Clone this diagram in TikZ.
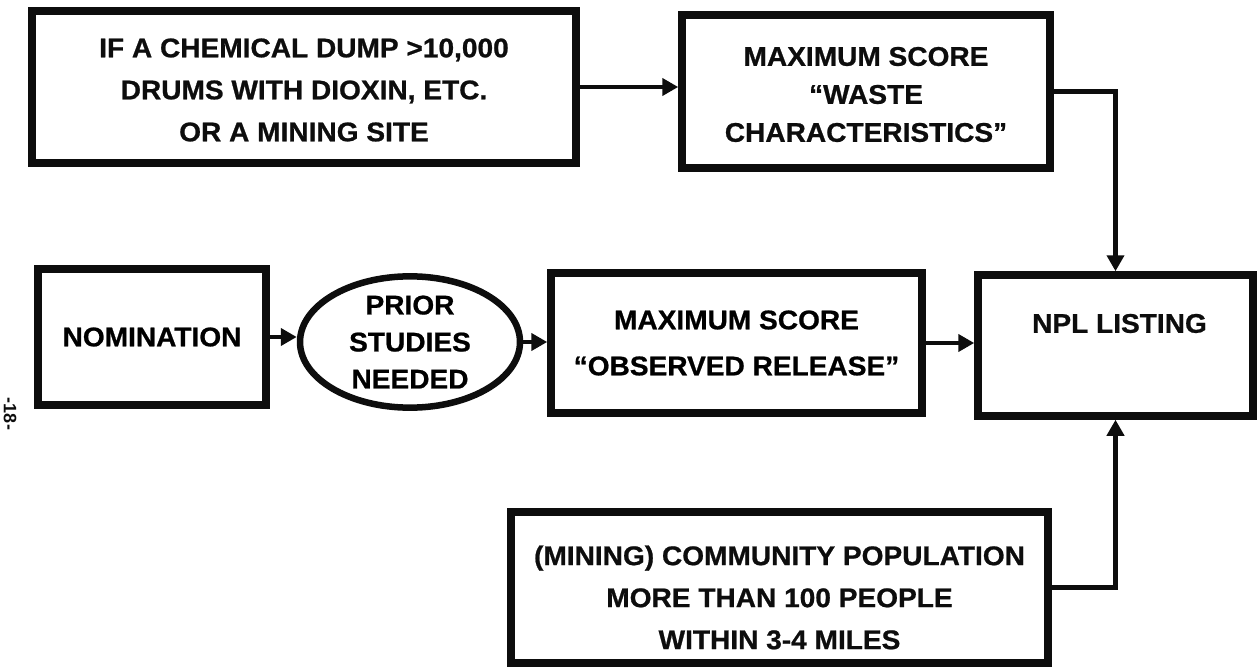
\documentclass[tikz,border=0pt]{standalone}
\usepackage{fontspec}
\setmainfont{Liberation Sans}
\newfontfamily\BoxFont[FakeStretch=1.04,FakeBold=0.8]{Liberation Sans}
\usetikzlibrary{arrows.meta,shapes.geometric}
\definecolor{InkClr}{rgb}{0.05,0.05,0.05}

\begin{document}
\begin{tikzpicture}[x=1pt,y=-1pt,
  box/.style={draw=InkClr,line width=7.5pt,align=center,inner sep=0pt,
    font=\BoxFont\bfseries\fontsize{27}{42}\selectfont},
  boxtext/.style={align=center,inner sep=0pt,text=InkClr,
    font=\BoxFont\bfseries\fontsize{27}{42}\selectfont},
  oval/.style={ellipse,draw=InkClr,line width=6.5pt,align=center,inner sep=0pt,
    font=\BoxFont\bfseries\fontsize{27}{37}\selectfont},
  conn/.style={draw=InkClr,line width=4.5pt,-{Triangle[length=16pt,width=17pt]}}]
\useasboundingbox (0,0) rectangle (1258,671);

\node[box,minimum width=544pt,minimum height=152pt,
  label={[boxtext,yshift=-3pt]center:{IF A CHEMICAL DUMP >10,000\\DRUMS WITH DIOXIN, ETC.\\OR A MINING SITE}}]
  (chem) at (304,87) {};
\node[box,minimum width=368pt,minimum height=153pt,
  label={[boxtext,yshift=-3pt,font=\BoxFont\bfseries\fontsize{27}{38}\selectfont]center:{MAXIMUM SCORE\\“WASTE\\CHARACTERISTICS”}}]
  (waste) at (866,91.5) {};
\node[box,minimum width=228pt,minimum height=136pt] (nom) at (152,337) {NOMINATION};
\node[oval,minimum width=220pt,minimum height=112pt] (prior) at (410,342)
  {PRIOR\\STUDIES\\NEEDED};
\node[box,minimum width=371pt,minimum height=140pt,
  font=\BoxFont\bfseries\fontsize{27}{46}\selectfont] (obs) at (736.5,343)
  {MAXIMUM SCORE\\“OBSERVED RELEASE”};
\node[box,minimum width=275pt,minimum height=141pt,
  label={[boxtext,yshift=22pt,xshift=4pt]center:NPL LISTING}] (npl) at (1115.5,345.5) {};
\node[box,minimum width=537pt,minimum height=151pt,
  label={[boxtext,yshift=-10pt]center:{(MINING) COMMUNITY POPULATION\\MORE THAN 100 PEOPLE\\WITHIN 3-4 MILES}}]
  (pop) at (779.5,587.5) {};

\node[rotate=-90,text=InkClr,font=\bfseries\fontsize{18}{18}\selectfont] (page) at (10,414) {-18-};

\draw[conn] (chem.east) -- (chem.east -| waste.west);
\draw[conn] (waste.east) -| (npl.north);
\draw[conn] (nom.east) -- (nom.east -| prior.west);
\draw[conn] (prior.east) -- (prior.east -| obs.west);
\draw[conn] (obs.east) -- (obs.east -| npl.west);
\draw[conn] (pop.east) -| (npl.south);

\end{tikzpicture}
\end{document}
